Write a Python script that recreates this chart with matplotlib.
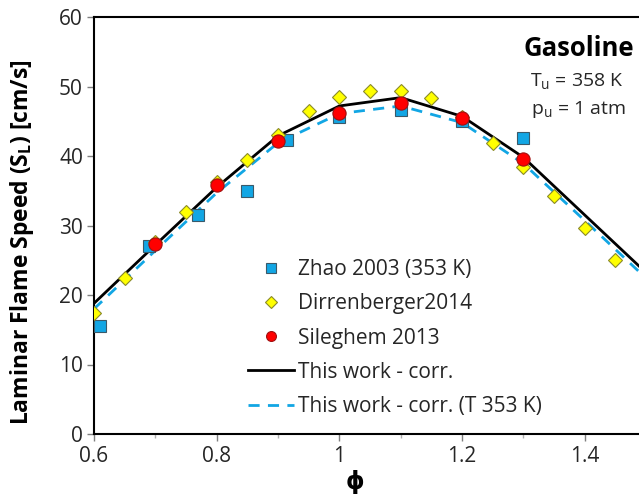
import matplotlib
matplotlib.use("Agg")
import matplotlib.pyplot as plt

# ---- data ----
zhao_phi = [0.61, 0.69, 0.77, 0.85, 0.915, 1.0, 1.1, 1.2, 1.3]
zhao_sl = [15.5, 27.0, 31.5, 35.0, 42.3, 45.6, 46.6, 45.0, 42.6]

dirr_phi = [0.6, 0.65, 0.7, 0.75, 0.8, 0.85, 0.9, 0.95, 1.0, 1.05, 1.1, 1.15,
            1.2, 1.25, 1.3, 1.35, 1.4, 1.45]
dirr_sl = [17.4, 22.5, 27.6, 32.0, 36.2, 39.4, 43.0, 46.5, 48.5, 49.3, 49.4, 48.3,
           45.6, 41.9, 38.4, 34.2, 29.7, 25.1]

sile_phi = [0.7, 0.8, 0.9, 1.0, 1.1, 1.2, 1.3]
sile_sl = [27.3, 35.8, 42.2, 46.2, 47.6, 45.5, 39.6]

corr_phi = [0.6, 0.7, 0.8, 0.9, 1.0, 1.1, 1.2, 1.3, 1.4, 1.5]
corr_sl = [18.8, 27.2, 35.5, 42.9, 47.2, 48.4, 45.7, 39.8, 31.5, 23.2]
corr353_sl = [18.0, 26.4, 34.7, 41.9, 46.1, 47.2, 44.8, 38.9, 30.7, 22.4]

CYAN = "#12a6e4"
YELLOW = "#ffff00"
RED = "#ff0000"
TEXT = "#262626"

plt.rcParams.update({
    "font.family": ["Open Sans", "DejaVu Sans"],
    "font.size": 15,
    "text.color": TEXT,
    "xtick.color": TEXT,
    "ytick.color": TEXT,
})

fig = plt.figure(figsize=(6.39, 4.97), dpi=100)
W, H = 639, 497
AXW, AXH = 613.5, 417
# axis extends past the right edge of the (cropped) picture
ax = fig.add_axes([94 / W, 63 / H, AXW / W, AXH / H])

ax.plot(corr_phi, corr_sl, color="black", linewidth=2, label="This work - corr.", zorder=2)
ax.plot(corr_phi, corr353_sl, color=CYAN, linewidth=2, linestyle=(0, (4, 3)),
        label="This work - corr. (T 353 K)", zorder=2)
ax.plot(zhao_phi, zhao_sl, linestyle="none", marker="s", markersize=9,
        markerfacecolor=CYAN, markeredgecolor="#3a5a6a", markeredgewidth=0.8,
        label="Zhao 2003 (353 K)", zorder=3)
ax.plot(dirr_phi, dirr_sl, linestyle="none", marker="D", markersize=7.5,
        markerfacecolor=YELLOW, markeredgecolor="#8a8a2a", markeredgewidth=0.8,
        label="Dirrenberger2014", zorder=4)
ax.plot(sile_phi, sile_sl, linestyle="none", marker="o", markersize=9.5,
        markerfacecolor=RED, markeredgecolor="#a01010", markeredgewidth=0.8,
        label="Sileghem 2013", zorder=5)

ax.set_xlim(0.6, 1.6)
ax.set_ylim(0, 60)
ax.set_xticks([0.6, 0.8, 1.0, 1.2, 1.4])
ax.set_xticklabels(["0.6", "0.8", "1", "1.2", "1.4"])
ax.set_xticks([0.7, 0.9, 1.1, 1.3, 1.5], minor=True)
ax.set_yticks(range(0, 61, 10))
ax.tick_params(axis="both", which="major", direction="out", length=5, width=1,
               color="#7f7f7f", labelsize=15)
ax.tick_params(axis="x", which="minor", direction="out", length=3, width=1, color="#b0b0b0")
ax.tick_params(axis="x", pad=4)
ax.tick_params(axis="y", pad=3)
for s in ("left", "bottom", "top"):
    ax.spines[s].set_color("black")
    ax.spines[s].set_linewidth(1.5)
ax.spines["right"].set_visible(False)

ax.set_ylabel("Laminar Flame Speed (S$_\\mathregular{L}$) [cm/s]", fontsize=16.5,
              fontweight="bold")
ax.yaxis.set_label_coords((36 - 94) / AXW, (434 - 242) / AXH)
ax.set_xlabel("ϕ", fontsize=17, fontweight="bold", family=["DejaVu Sans"])
ax.xaxis.label.set_verticalalignment("center")
ax.xaxis.set_label_coords((355 - 94) / AXW, (434 - 482) / AXH)

handles, labels = ax.get_legend_handles_labels()
order = [2, 3, 4, 0, 1]
ax.legend([handles[i] for i in order], [labels[i] for i in order],
          loc="upper left", bbox_to_anchor=((240 - 94) / AXW, (434 - 251) / AXH),
          frameon=False, fontsize=15, handlelength=2.2, labelspacing=0.63,
          handletextpad=0.2, borderaxespad=0, markerscale=0.75)

fig.text(634 / W, 1 - 48 / H, "Gasoline", ha="right", va="center", fontsize=18.5,
         fontweight="bold", color="black")
fig.text(577 / W, 1 - 82 / H, "T$_\\mathregular{u}$ = 358 K", ha="center", va="center", fontsize=14)
fig.text(578 / W, 1 - 110 / H, "p$_\\mathregular{u}$ = 1 atm", ha="center", va="center", fontsize=14)

fig.savefig("out.png", dpi=100)
